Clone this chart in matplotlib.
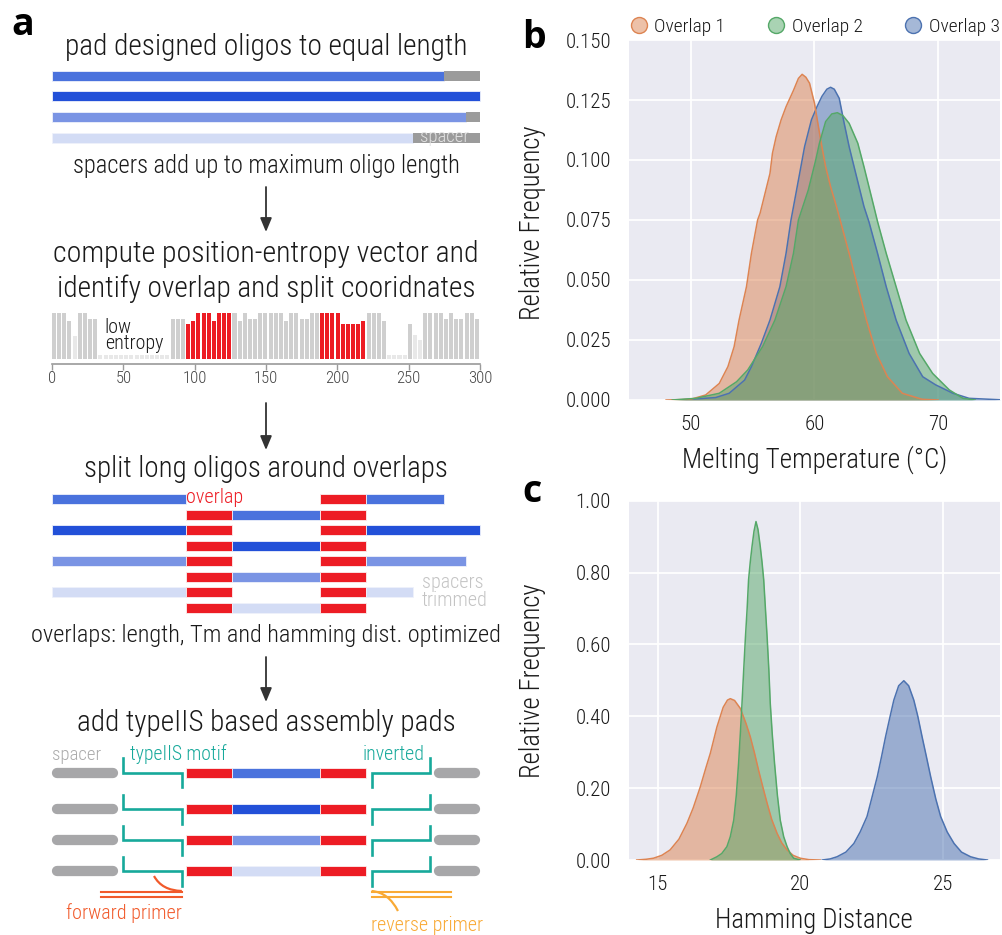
import matplotlib
matplotlib.use('Agg')
import matplotlib.pyplot as plt
from matplotlib import font_manager as fm
from matplotlib.path import Path
from matplotlib.patches import PathPatch
from matplotlib.lines import Line2D

# ---------------- fonts ----------------
_names = {f.name for f in fm.fontManager.ttflist}
FONT = next((n for n in ['Liberation Sans Narrow', 'Roboto Condensed', 'Open Sans Condensed',
                         'Roboto', 'Lato', 'Open Sans'] if n in _names), 'DejaVu Sans')
BOLD = 'Open Sans' if 'Open Sans' in _names else 'DejaVu Sans'
plt.rcParams['font.family'] = [FONT, 'DejaVu Sans']
WEIGHT = 'light'

# ---------------- data: panel a ----------------
max_length = 300
oligo_lengths = [275, 300, 290, 253]
oligo_colors = ['#4a72dd', '#2250d8', '#7a94e4', '#d3dcf5']
overlap_windows = [(94, 126), (188, 220)]
entropy_ticks = [0, 50, 100, 150, 200, 250, 300]
# normalised position entropy (83 windows across 300 nt)
entropy = [1.0, 1.0, 1.0, 0.82, 0.49, 1.0, 1.0, 0.87, 0.87,
           0.09, 0.09, 0.09, 0.09, 0.09, 0.09, 0.09, 0.09, 0.09, 0.09, 0.09, 0.09, 0.09, 0.09,
           0.87, 0.87, 0.87,
           0.76, 0.82, 1.0, 1.0, 1.0, 0.82, 1.0, 1.0, 1.0,
           1.0, 0.82, 1.0, 0.87, 0.87, 1.0, 1.0, 1.0, 1.0, 1.0, 0.82, 1.0, 1.0, 0.87, 0.87, 1.0, 1.0,
           1.0, 1.0, 1.0, 1.0, 0.76, 0.76, 0.76, 0.76, 0.82,
           1.0, 1.0, 1.0, 0.82, 0.09, 0.09, 0.09, 0.09, 0.77, 0.53, 0.42,
           1.0, 1.0, 1.0, 1.0, 0.87, 1.0, 0.87, 0.87, 1.0, 1.0, 0.87]
# assembly pad schematic segments (nt coordinates)
spacer_left = (0, 46)
spacer_right = (268, 300)
motif_left = (50, 91)
motif_right = (224, 265)
fwd_primer = (34, 91)
rev_primer = (224, 280)

# ---------------- data: panel b (melting temperature densities) ----------------
series_names = ['Overlap 1', 'Overlap 2', 'Overlap 3']
series_colors = ['#dd8452', '#55a868', '#4c72b0']
tm_x1 = [48.0, 50.0, 51.2, 52.3, 53.0, 53.5, 53.9, 54.5, 54.9, 55.4, 55.6, 56.0, 56.4, 56.6, 56.9,
         57.3, 57.7, 58.3, 58.7, 59.0, 59.3, 59.6, 60.0, 60.5, 60.9, 61.3, 61.7, 62.1, 62.8, 63.5,
         64.2, 65.0, 65.9, 67.1, 68.7, 70.0]
tm_y1 = [0.0, 0.0003, 0.0021, 0.0069, 0.0139, 0.0222, 0.0333, 0.0472, 0.0611, 0.075, 0.0778, 0.0861,
         0.0944, 0.1028, 0.1097, 0.1167, 0.1222, 0.129, 0.134, 0.1357, 0.1345, 0.132, 0.1236, 0.1083,
         0.0972, 0.0889, 0.082, 0.0745, 0.0611, 0.0472, 0.0333, 0.0194, 0.0097, 0.0028, 0.0003, 0.0]
tm_x2 = [48.5, 50.4, 52.3, 53.7, 54.6, 55.8, 56.8, 57.7, 58.3, 58.7, 59.5, 60.1, 60.4, 60.9, 61.4,
         61.85, 62.3, 62.8, 63.5, 64.0, 64.4, 64.8, 65.1, 65.8, 66.6, 67.4, 68.5, 69.55, 70.9, 72.0, 73.0]
tm_y2 = [0.0, 0.0007, 0.0028, 0.0076, 0.0125, 0.0222, 0.0333, 0.0472, 0.0611, 0.075, 0.0875, 0.1,
         0.107, 0.116, 0.1192, 0.1197, 0.1185, 0.1153, 0.107, 0.0972, 0.0889, 0.0806, 0.0743, 0.0611,
         0.0472, 0.0333, 0.0194, 0.0111, 0.0042, 0.0007, 0.0]
tm_x3 = [49.0, 52.0, 53.1, 54.35, 54.9, 55.7, 56.4, 57.2, 57.7, 58.1, 58.4, 58.8, 59.2, 59.75, 60.2,
         60.6, 61.0, 61.3, 61.6, 62.0, 62.4, 62.8, 63.2, 63.6, 64.0, 64.4, 65.1, 65.8, 66.6, 67.65,
         68.75, 69.8, 71.2, 72.5, 75.0]
tm_y3 = [0.0, 0.001, 0.0028, 0.0083, 0.0139, 0.0236, 0.0333, 0.0472, 0.0611, 0.075, 0.0833, 0.0944,
         0.1056, 0.1167, 0.1222, 0.1265, 0.1295, 0.1303, 0.1295, 0.1257, 0.1153, 0.1056, 0.0972,
         0.0889, 0.0806, 0.0743, 0.0611, 0.0472, 0.0333, 0.0194, 0.0097, 0.0063, 0.0028, 0.0007, 0.0001]
tm_xticks = [50, 60, 70]
tm_yticks = [0.0, 0.025, 0.05, 0.075, 0.1, 0.125, 0.15]

# ---------------- data: panel c (hamming distance densities) ----------------
hd_x1 = [14.27, 14.6, 14.86, 15.15, 15.44, 15.75, 16.03, 16.25, 16.5, 16.7, 16.85, 17.08, 17.3,
         17.45, 17.55, 17.7, 17.9, 18.1, 18.25, 18.4, 18.54, 18.7, 18.84, 19.0, 19.19, 19.35, 19.54,
         19.75, 20.0, 20.3, 20.7]
hd_y1 = [0.0, 0.002, 0.005, 0.013, 0.028, 0.058, 0.102, 0.145, 0.204, 0.258, 0.297, 0.37, 0.425,
         0.445, 0.449, 0.444, 0.422, 0.38, 0.343, 0.297, 0.25, 0.2, 0.158, 0.113, 0.074, 0.048, 0.028,
         0.013, 0.005, 0.001, 0.0]
hd_x2 = [16.85, 17.08, 17.25, 17.43, 17.55, 17.67, 17.76, 17.84, 17.9, 17.96, 18.02, 18.08, 18.14,
         18.19, 18.25, 18.31, 18.38, 18.45, 18.52, 18.6, 18.66, 18.72, 18.78, 18.84, 18.9, 18.95,
         19.02, 19.1, 19.2, 19.3, 19.42, 19.54, 19.65, 19.77, 20.0]
hd_y2 = [0.0, 0.009, 0.018, 0.037, 0.065, 0.111, 0.18, 0.269, 0.35, 0.436, 0.53, 0.62, 0.7, 0.78,
         0.83, 0.872, 0.915, 0.942, 0.92, 0.872, 0.83, 0.78, 0.7, 0.62, 0.53, 0.436, 0.35, 0.269,
         0.18, 0.111, 0.065, 0.037, 0.018, 0.005, 0.0]
hd_x3 = [20.77, 21.05, 21.29, 21.6, 21.88, 22.1, 22.34, 22.5, 22.7, 22.85, 22.99, 23.15, 23.28,
         23.45, 23.63, 23.8, 23.98, 24.12, 24.27, 24.42, 24.57, 24.75, 24.92, 25.15, 25.39, 25.65,
         25.97, 26.25, 26.56]
hd_y3 = [0.0, 0.003, 0.009, 0.022, 0.046, 0.078, 0.121, 0.17, 0.232, 0.288, 0.343, 0.4, 0.445,
         0.485, 0.499, 0.485, 0.445, 0.4, 0.343, 0.288, 0.232, 0.17, 0.121, 0.078, 0.046, 0.022,
         0.009, 0.003, 0.0]
hd_xticks = [15, 20, 25]
hd_yticks = [0.0, 0.2, 0.4, 0.6, 0.8, 1.0]

# ---------------- figure ----------------
W, H = 1003, 935
fig = plt.figure(figsize=(W / 100, H / 100), dpi=100)
renderer = fig.canvas.get_renderer()


def fx(px):
    return px / W


def fy(py):
    return 1 - py / H


def fit(target, x, y, s, width_px, vertical=False, **kw):
    kw.setdefault('fontweight', WEIGHT)
    t = target.text(x, y, s, **kw)
    bb = t.get_window_extent(renderer)
    cur = bb.height if vertical else bb.width
    t.set_fontsize(t.get_fontsize() * width_px / cur)
    return t


RED = '#ed1c24'
TEAL = '#17a99b'
GRAY_SP = '#9b9b9b'
TXT = '#1a1a1a'

# ---- panel a canvas: x in nucleotide units, y in pixel rows ----
ax = fig.add_axes([0, 0, 0.5, 1])
PX0, PX1 = 52, 480
scale = (PX1 - PX0) / max_length
ax.set_xlim(-PX0 / scale, (0.5 * W - PX0) / scale)
ax.set_ylim(H, 0)
ax.axis('off')
CX = max_length / 2


def title(y, s, width):
    return fit(ax, CX, y, s, width, ha='center', va='baseline', color=TXT, fontsize=20)


fig.text(fx(11), fy(35), 'a', fontsize=27, fontweight='bold', family=BOLD, ha='left', va='baseline')
fig.text(fx(522), fy(48), 'b', fontsize=27, fontweight='bold', family=BOLD, ha='left', va='baseline')
fig.text(fx(522), fy(502), 'c', fontsize=27, fontweight='bold', family=BOLD, ha='left', va='baseline')

# step 1: padded oligos
title(55, 'pad designed oligos to equal length', 402)
bar_rows = [75.5, 95.7, 116.7, 137.7]
for L, c, yr in zip(oligo_lengths, oligo_colors, bar_rows):
    ax.barh(yr, L, left=0, height=10, color=c, edgecolor='#eef1fb', linewidth=0.6)
    if L < max_length:
        sp = ax.barh(yr, max_length - L, left=L, height=10, color=GRAY_SP, linewidth=0)[0]
last_spacer = sp
tsp = fit(ax, 258, 141.5, 'spacer', 49, ha='left', va='baseline', color='#e2e2e2', fontsize=12)
tsp.set_clip_path(last_spacer)
title(173.3, 'spacers add up to maximum oligo length', 387)


def arrow(y0, y1):
    ax.annotate('', xy=(CX, y1), xytext=(CX, y0),
                arrowprops=dict(arrowstyle='-|>,head_length=0.6,head_width=0.25', color='#333333',
                                lw=1.3, mutation_scale=14, shrinkA=0, shrinkB=0))


arrow(187, 232)
title(261.7, 'compute position-entropy vector and', 426)
title(297.3, 'identify overlap and split cooridnates', 418)

# entropy bars
ax_e = fig.add_axes([fx(PX0), fy(364), fx(PX1) - fx(PX0), (364 - 313) / H])
n = len(entropy)
wbin = max_length / n
lefts = [i * wbin for i in range(n)]
ecolors = []
for i, v in enumerate(entropy):
    c = '#cfcfcf'
    if v < 0.6:
        c = '#e8e8e8'
    for a, b in overlap_windows:
        if a - 0.5 <= lefts[i] < b - 0.5:
            c = RED
    ecolors.append(c)
ax_e.bar(lefts, entropy, width=wbin * 0.78, align='edge', color=ecolors, linewidth=0)
ax_e.set_xlim(0, max_length)
ax_e.set_ylim(-5 / 46, 1.0)
ax_e.set_facecolor('none')
for s in ['top', 'left', 'right']:
    ax_e.spines[s].set_visible(False)
ax_e.spines['bottom'].set_color('#9a9a9a')
ax_e.spines['bottom'].set_linewidth(1.2)
ax_e.set_yticks([])
ax_e.set_xticks(entropy_ticks)
ax_e.tick_params(axis='x', direction='out', length=4, width=1, color='#9a9a9a',
                 labelsize=12, labelcolor='#444444', pad=1)
for lab in ax_e.get_xticklabels():
    lab.set_fontweight(WEIGHT)
# multi-line text: baseline refers to the last line
fit(ax, 37, 349.3, 'low\nentropy', 58, ha='left', va='baseline', color=TXT, fontsize=13,
    linespacing=0.85)

# step 3: split oligos
arrow(403, 450)
title(476.7, 'split long oligos around overlaps', 364)
split_rows = [499, 514.5, 530, 545.5, 561, 576.5, 592, 607.5]
(o1a, o1b), (o2a, o2b) = overlap_windows
for k, (L, c) in enumerate(zip(oligo_lengths, oligo_colors)):
    ya, yb = split_rows[2 * k], split_rows[2 * k + 1]
    ax.barh(ya, o1a, left=0, height=10, color=c, edgecolor='#eef1fb', linewidth=0.6)
    if k > 0:
        ax.barh(ya, o1b - o1a, left=o1a, height=10, color=RED, edgecolor='#fbeeee', linewidth=0.6)
    ax.barh(ya, o2b - o2a, left=o2a, height=10, color=RED, edgecolor='#fbeeee', linewidth=0.6)
    ax.barh(ya, L - o2b, left=o2b, height=10, color=c, edgecolor='#eef1fb', linewidth=0.6)
    ax.barh(yb, o1b - o1a, left=o1a, height=10, color=RED, edgecolor='#fbeeee', linewidth=0.6)
    ax.barh(yb, o2a - o1b, left=o1b, height=10, color=c, edgecolor='#eef1fb', linewidth=0.6)
    ax.barh(yb, o2b - o2a, left=o2a, height=10, color=RED, edgecolor='#fbeeee', linewidth=0.6)
fit(ax, o1a, 503.3, 'overlap', 57, ha='left', va='baseline', color=RED, fontsize=14)
fit(ax, 259, 606, 'spacers\ntrimmed', 66, ha='left', va='baseline', color='#c4c4c4', fontsize=14,
    linespacing=0.95)
title(641.7, 'overlaps: length, Tm and hamming dist. optimized', 471)

# step 4: assembly pads
arrow(657, 702)
title(730.7, 'add typeIIS based assembly pads', 377)
pad_rows = [772.5, 809, 840, 871]
cap = 3.5
for k, yr in enumerate(pad_rows):
    c = oligo_colors[k]
    ax.plot([spacer_left[0] + cap, spacer_left[1] - cap], [yr, yr], color='#a7a7a9', lw=7.4,
            solid_capstyle='round')
    ax.plot([spacer_right[0] + cap, spacer_right[1] - cap], [yr, yr], color='#a7a7a9', lw=7.4,
            solid_capstyle='round')
    ax.plot([motif_left[0], motif_left[0], motif_left[1], motif_left[1]],
            [yr - 14.3, yr, yr, yr + 14.7], color=TEAL, lw=1.9, solid_joinstyle='miter')
    ax.plot([motif_right[0], motif_right[0], motif_right[1], motif_right[1]],
            [yr + 14.7, yr, yr, yr - 14.3], color=TEAL, lw=1.9, solid_joinstyle='miter')
    ax.barh(yr, o1b - o1a, left=o1a, height=10, color=RED, edgecolor='#fbeeee', linewidth=0.6)
    ax.barh(yr, o2a - o1b, left=o1b, height=10, color=c, edgecolor='#eef1fb', linewidth=0.6)
    ax.barh(yr, o2b - o2a, left=o2a, height=10, color=RED, edgecolor='#fbeeee', linewidth=0.6)

fit(ax, spacer_left[0], 760, 'spacer', 49, ha='left', va='baseline', color='#ababab', fontsize=14)
fit(ax, 55, 760, 'typeIIS motif', 97, ha='left', va='baseline', color=TEAL, fontsize=14)
fit(ax, 218, 760, 'inverted', 62, ha='left', va='baseline', color=TEAL, fontsize=14)

FWD = '#f15a2b'
REV = '#f9aa35'
for yy in (891.7, 896.7):
    ax.plot(list(fwd_primer), [yy, yy], color=FWD, lw=1.5)
    ax.plot(list(rev_primer), [yy, yy], color=REV, lw=1.5)
ax.add_patch(PathPatch(Path([(71.5, 876), (77, 890.5), (fwd_primer[1], 891)],
                            [Path.MOVETO, Path.CURVE3, Path.CURVE3]),
                       fill=False, edgecolor=FWD, lw=1.6))
ax.add_patch(PathPatch(Path([(rev_primer[0], 891), (236, 892.5), (242.5, 911)],
                            [Path.MOVETO, Path.CURVE3, Path.CURVE3]),
                       fill=False, edgecolor=REV, lw=1.6))
fit(ax, 9.8, 919.3, 'forward primer', 116, ha='left', va='baseline', color=FWD, fontsize=14)
fit(ax, 223.6, 931, 'reverse primer', 112, ha='left', va='baseline', color=REV, fontsize=14)


# ---------------- panels b and c ----------------
def style(axx, xlim, ylim, xticks, yticks, fmt):
    axx.set_facecolor('#eaeaf2')
    for s in axx.spines.values():
        s.set_visible(False)
    axx.grid(True, color='white', lw=1.3)
    axx.set_axisbelow(True)
    axx.set_xlim(*xlim)
    axx.set_ylim(*ylim)
    axx.set_xticks(xticks)
    axx.set_yticks(yticks)
    axx.set_yticklabels([fmt.format(v) for v in yticks])
    axx.tick_params(axis='both', length=0, labelsize=15, labelcolor=TXT)
    axx.tick_params(axis='y', pad=13)
    axx.tick_params(axis='x', pad=11)
    for lab in axx.get_xticklabels() + axx.get_yticklabels():
        lab.set_fontweight(WEIGHT)


ax_b = fig.add_axes([fx(629), fy(400), fx(1000) - fx(629), (400 - 40) / H])
style(ax_b, (45, 75), (0, 0.15), tm_xticks, tm_yticks, '{:.3f}')
tm_data = [(tm_x1, tm_y1), (tm_x2, tm_y2), (tm_x3, tm_y3)]
for idx in [2, 0, 1]:
    xs, ys = tm_data[idx]
    ax_b.fill_between(xs, ys, 0, color=series_colors[idx], alpha=0.5, linewidth=0)
    ax_b.plot(xs, ys, color=series_colors[idx], lw=1.1)

ax_c = fig.add_axes([fx(629), fy(860), fx(1000) - fx(629), (860 - 500.7) / H])
style(ax_c, (14, 27), (0, 1.0), hd_xticks, hd_yticks, '{:.2f}')
hd_data = [(hd_x1, hd_y1), (hd_x2, hd_y2), (hd_x3, hd_y3)]
for idx in [2, 0, 1]:
    xs, ys = hd_data[idx]
    ax_c.fill_between(xs, ys, 0, color=series_colors[idx], alpha=0.5, linewidth=0)
    ax_c.plot(xs, ys, color=series_colors[idx], lw=1.1)

fit(fig, fx(533), fy(222.5), 'Relative Frequency', 195, vertical=True, rotation=90,
    ha='center', va='center', color=TXT, fontsize=20)
fit(fig, fx(533), fy(680.5), 'Relative Frequency', 195, vertical=True, rotation=90,
    ha='center', va='center', color=TXT, fontsize=20)
fit(fig, fx(815), fy(467.3), 'Melting Temperature (°C)', 265, ha='center', va='baseline',
    color=TXT, fontsize=20)
fit(fig, fx(814), fy(928.3), 'Hamming Distance', 198, ha='center', va='baseline',
    color=TXT, fontsize=20)

handles = [Line2D([], [], ls='', marker='o', markersize=11.5,
                  markerfacecolor=matplotlib.colors.to_rgba(c, 0.5), markeredgecolor=c)
           for c in series_colors]
leg = ax_b.legend(handles, series_names, loc='lower left', bbox_to_anchor=(-0.01, 1.0, 1.02, 0.1),
                  mode='expand', ncol=3, frameon=False, handletextpad=0.3, borderaxespad=0.2,
                  borderpad=0.0, handlelength=1.0, fontsize=14, labelcolor=TXT)
for t in leg.get_texts():
    t.set_fontweight(WEIGHT)

fig.savefig('out.png', dpi=100)
